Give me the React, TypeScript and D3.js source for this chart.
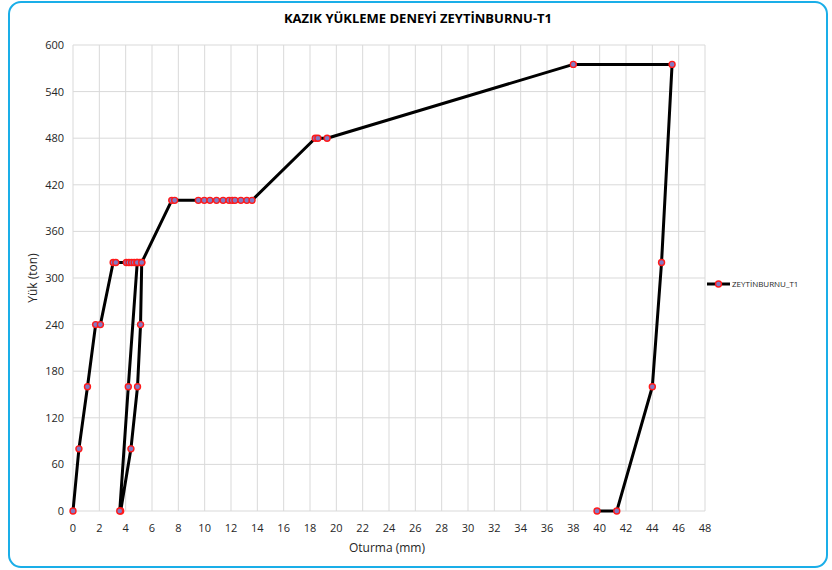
import React from "react";
import * as d3 from "d3";

const W = 832, H = 570;
const M = { left: 73, right: 127, top: 45, bottom: 59 };

// settlement (mm) and load (ton), in test order
const settlement = [
  0, 0.45, 1.1, 1.72, 2.08, 3.05, 3.25, 4.05, 4.25, 4.45, 4.65, 4.85, 5.05, 5.22,
  5.13, 4.9, 4.4, 3.62, 3.55, 4.2, 4.88, 5.22,
  7.5, 7.72, 9.52, 9.97, 10.4, 10.9, 11.4, 11.85, 12.1, 12.3, 12.75, 13.2, 13.6,
  18.4, 18.6, 19.3, 38.0, 45.5, 44.7, 44.0, 41.3, 39.8,
];
const load = [
  0, 80, 160, 240, 240, 320, 320, 320, 320, 320, 320, 320, 320, 320,
  240, 160, 80, 0, 0, 160, 320, 320,
  400, 400, 400, 400, 400, 400, 400, 400, 400, 400, 400, 400, 400,
  480, 480, 480, 575, 575, 320, 160, 0, 0,
];
const xTicks = d3.range(0, 49, 2);
const yTicks = d3.range(0, 601, 60);
const title = "KAZIK YÜKLEME DENEYİ ZEYTİNBURNU-T1";
const seriesName = "ZEYTİNBURNU_T1";
const xTitle = "Oturma (mm)";
const yTitle = "Yük (ton)";

const FONT = "'Open Sans', 'Noto Sans', sans-serif";
const MARK_FILL = "#8479C2";
const MARK_STROKE = "#FF1A1A";

export default function App() {
  const x = d3.scaleLinear([0, 48], [M.left, W - M.right]);
  const y = d3.scaleLinear([0, 600], [H - M.bottom, M.top]);
  const pts = settlement.map((s, i) => [s, load[i]] as [number, number]);
  const line = d3.line<[number, number]>().x((d) => x(d[0])).y((d) => y(d[1]));
  const ly = 284;

  return (
    <svg width={W} height={H} style={{ position: "absolute", left: 0, top: 0, background: "#fff" }}>
      <rect x={9} y={2} width={818} height={565} rx={12} fill="#fff" stroke="#1AAEE8" strokeWidth={2} />
      <text x={418} y={23} textAnchor="middle" fontFamily={FONT} fontWeight="bold" fontSize={13} fill="#000">
        {title}
      </text>

      {/* grid */}
      {xTicks.map((t) => (
        <line key={"gx" + t} x1={x(t)} x2={x(t)} y1={y(0)} y2={y(600)} stroke="#D9D9D9" strokeWidth={1} />
      ))}
      {yTicks.map((t) => (
        <line key={"gy" + t} x1={x(0)} x2={x(48)} y1={y(t)} y2={y(t)} stroke="#D9D9D9" strokeWidth={1} />
      ))}

      {/* tick labels */}
      {xTicks.map((t) => (
        <text key={"tx" + t} x={x(t)} y={y(0) + 21} textAnchor="middle" fontFamily={FONT} fontSize={11} fill="#262626">
          {t}
        </text>
      ))}
      {yTicks.map((t) => (
        <text key={"ty" + t} x={x(0) - 9} y={y(t) + 4} textAnchor="end" fontFamily={FONT} fontSize={11} fill="#262626">
          {t}
        </text>
      ))}
      <text x={(x(0) + x(48)) / 2 - 2} y={552} textAnchor="middle" fontFamily={FONT} fontSize={12} fill="#262626">
        {xTitle}
      </text>
      <text transform={`translate(37,${(y(0) + y(600)) / 2}) rotate(-90)`} textAnchor="middle" fontFamily={FONT} fontSize={12} fill="#262626">
        {yTitle}
      </text>

      {/* series */}
      <path d={line(pts) ?? ""} fill="none" stroke="#000" strokeWidth={3} strokeLinejoin="round" />
      {pts.map((d, i) => (
        <circle key={i} cx={x(d[0])} cy={y(d[1])} r={3} fill={MARK_FILL} stroke={MARK_STROKE} strokeWidth={1.4} />
      ))}

      {/* legend */}
      <line x1={707} x2={730} y1={ly} y2={ly} stroke="#000" strokeWidth={3} />
      <circle cx={718.5} cy={ly} r={3} fill={MARK_FILL} stroke={MARK_STROKE} strokeWidth={1.4} />
      <text x={732} y={ly + 3} fontFamily={FONT} fontSize={8} fill="#262626">
        {seriesName}
      </text>
    </svg>
  );
}
